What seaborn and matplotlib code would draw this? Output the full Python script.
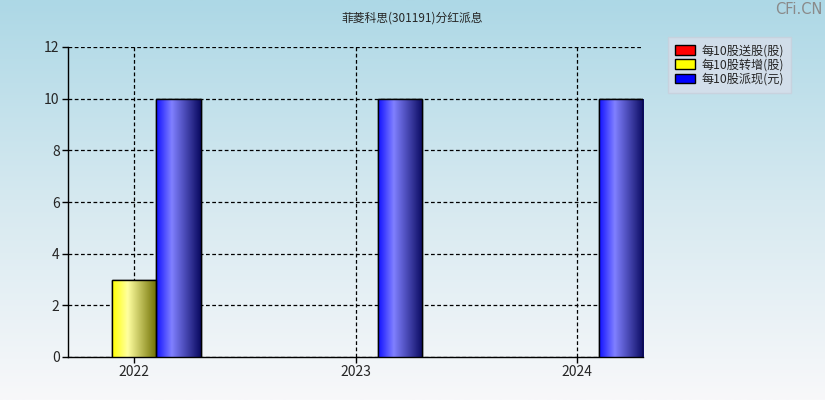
import matplotlib.pyplot as plt
import seaborn as sns
import numpy as np
import pandas as pd
from matplotlib.colors import LinearSegmentedColormap
from matplotlib.patches import Patch

years = ["2022", "2023", "2024"]
series = ["每10股送股(股)", "每10股转增(股)", "每10股派现(元)"]
song_gu = [0, 0, 0]
zhuan_zeng = [3, 0, 0]
pai_xian = [10, 10, 10]
colors = ["#ff0000", "#ffff00", "#0000ff"]

df = pd.DataFrame({
    "year": years * 3,
    "kind": [series[0]] * 3 + [series[1]] * 3 + [series[2]] * 3,
    "value": song_gu + zhuan_zeng + pai_xian,
})

sns.set_theme(style="white")
plt.rcParams["font.family"] = ["Noto Sans CJK SC", "DejaVu Sans"]

fig = plt.figure(figsize=(8.25, 4), dpi=100)

# figure background gradient
bg = fig.add_axes([0, 0, 1, 1], zorder=-10)
bg_cmap = LinearSegmentedColormap.from_list("bg", ["#f8f8fa", "#d6e9f0", "#add8e6"])
bg.imshow(np.linspace(0, 1, 256).reshape(-1, 1), cmap=bg_cmap, aspect="auto",
          origin="lower", extent=[0, 1, 0, 1])
bg.axis("off")

ax = fig.add_axes([68 / 825, 43 / 400, 575 / 825, 310 / 400])
ax.patch.set_alpha(0)
sns.barplot(data=df, x="year", y="value", hue="kind", hue_order=series,
            palette=colors, width=0.6, gap=0, edgecolor="black", linewidth=1,
            legend=False, ax=ax, zorder=3)

# horizontal gradient on every bar
grads = [
    ["#ff0000", "#ff9090", "#700000"],
    ["#ffff00", "#ffffa0", "#6e6e00"],
    ["#1010ff", "#8080ff", "#0a0a60"],
]
for cont, g in zip(ax.containers, grads):
    cm = LinearSegmentedColormap.from_list("g", [(0, g[0]), (0.35, g[1]), (1, g[2])])
    for p in cont:
        h = p.get_height()
        if h <= 0:
            p.set_visible(False)
            continue
        x0 = p.get_x()
        w = p.get_width()
        im = ax.imshow(np.linspace(0, 1, 256).reshape(1, -1), cmap=cm, aspect="auto",
                       extent=[x0, x0 + w, 0, h], zorder=3.5)
        im.set_clip_path(p)
        ax.add_patch(plt.Rectangle((x0, 0), w, h, fill=False, edgecolor="black",
                                   linewidth=1, zorder=4))

ax.set_xlim(-0.3, 2.3)
ax.set_ylim(0, 12)
ax.set_yticks(range(0, 13, 2))
ax.set_xlabel("")
ax.set_ylabel("")
ax.grid(True, color="black", linestyle=(0, (3, 2)), linewidth=0.9)
ax.set_axisbelow(True)
for s in ["top", "right"]:
    ax.spines[s].set_visible(False)
for s in ["left", "bottom"]:
    ax.spines[s].set_color("black")
    ax.spines[s].set_linewidth(1)
ax.tick_params(axis="both", length=4, width=1, color="black", labelsize=10,
               left=True, bottom=True, pad=2)

fig.text(0.5, 1 - 18 / 400, "菲菱科思(301191)分红派息", ha="center", va="center", fontsize=8.5)
fig.text(0.997, 1 - 10 / 400, "CFi.CN", ha="right", va="center", fontsize=10.5,
         color="#8a8a8a", family=["DejaVu Sans"])

handles = [Patch(facecolor=c, edgecolor="black", label=s) for c, s in zip(colors, series)]
leg = fig.legend(handles=handles, loc="upper left", bbox_to_anchor=(668 / 825, 1 - 37 / 400),
                 fontsize=8.75, frameon=True, fancybox=False, handlelength=1.65,
                 handleheight=0.85, handletextpad=0.5, labelspacing=0.1, borderpad=0.6,
                 borderaxespad=0)
leg.get_frame().set_facecolor("#d8deea")
leg.get_frame().set_edgecolor("#c8d0dc")

fig.savefig("out.png", dpi=100)
